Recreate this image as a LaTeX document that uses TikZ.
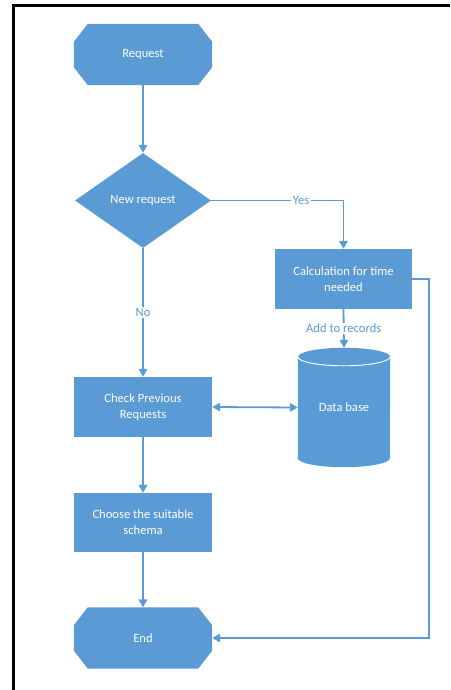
\documentclass[tikz,border=0pt]{standalone}
\usepackage{fontspec}
\setmainfont{Carlito}
\usetikzlibrary{arrows.meta,calc,backgrounds,shapes.geometric}
\definecolor{obl}{HTML}{5B9BD5}
\begin{document}
\begin{tikzpicture}[x=1pt,y=-1pt,
  txt/.style={text=white,align=center,font=\fontsize{12.6}{16}\selectfont},
  box/.style={txt,fill=obl,minimum width=138pt,minimum height=60pt,inner sep=2pt},
  term/.style={txt,minimum width=138pt,minimum height=61pt,inner sep=2pt},
  decision/.style={txt,diamond,fill=obl,minimum width=136pt,minimum height=95pt,inner sep=0pt,aspect=1.43},
  dbase/.style={txt,minimum width=92pt,minimum height=119pt,inner sep=0pt},
  lab/.style={fill=white,text=obl,inner sep=1.5pt,font=\fontsize{12.6}{14}\selectfont},
  conn/.style={draw=obl,line width=1.8pt,-{Triangle[width=8.5pt,length=8pt]}}]
\useasboundingbox (0,0) rectangle (450,690);
\draw[line width=2.4pt] (13.5,690) -- (13.5,5.5) -- (450,5.5);

\node[term] (req) at (143,54.5) {Request};
\node[decision] (dec) at (143,200.5) {New request};
\node[box,minimum width=137pt] (calc) at (343.5,279) {Calculation for time\\needed};
\node[dbase] (db) at (344,407.5) {Data base};
\node[box] (check) at (143,407) {Check Previous\\Requests};
\node[box,minimum height=59pt] (choose) at (143,522.5) {Choose the suitable\\schema};
\node[term] (end) at (143,638) {End};

\begin{scope}[on background layer]
  \foreach \n in {req,end}{
    \fill[obl] ($(\n.north west)+(14,0)$) -- ($(\n.north east)+(-14,0)$)
      -- ($(\n.north east)+(0,18)$) -- ($(\n.south east)+(0,-18)$)
      -- ($(\n.south east)+(-14,0)$) -- ($(\n.south west)+(14,0)$)
      -- ($(\n.south west)+(0,-18)$) -- ($(\n.north west)+(0,18)$) -- cycle;
  }
  \fill[obl] ($(db.north west)+(0,9)$) -- ($(db.south west)+(0,-9)$)
    arc[start angle=180,end angle=360,x radius=46pt,y radius=9pt]
    -- ($(db.north east)+(0,9)$)
    arc[start angle=0,end angle=180,x radius=46pt,y radius=9pt] -- cycle;
  \draw[white,line width=0.9pt] ($(db.north west)+(0,9)$)
    arc[start angle=180,end angle=360,x radius=46pt,y radius=9pt];
\end{scope}

\draw[conn] (req) -- (dec);
\draw[conn] (dec.east) -| node[lab,pos=0.34]{Yes} (calc.north);
\draw[conn] (dec.south) -- node[lab]{No} (check.north);
\draw[conn] (calc.south) -- node[lab]{Add to records} (db.north);
\draw[conn] (calc.east) -- ++(17,0) |- (end.east);
\draw[conn,{Triangle[width=8.5pt,length=8pt]}-{Triangle[width=8.5pt,length=8pt]}] (check.east) -- (db.west);
\draw[conn] (check) -- (choose);
\draw[conn] (choose) -- (end);
\end{tikzpicture}
\end{document}
